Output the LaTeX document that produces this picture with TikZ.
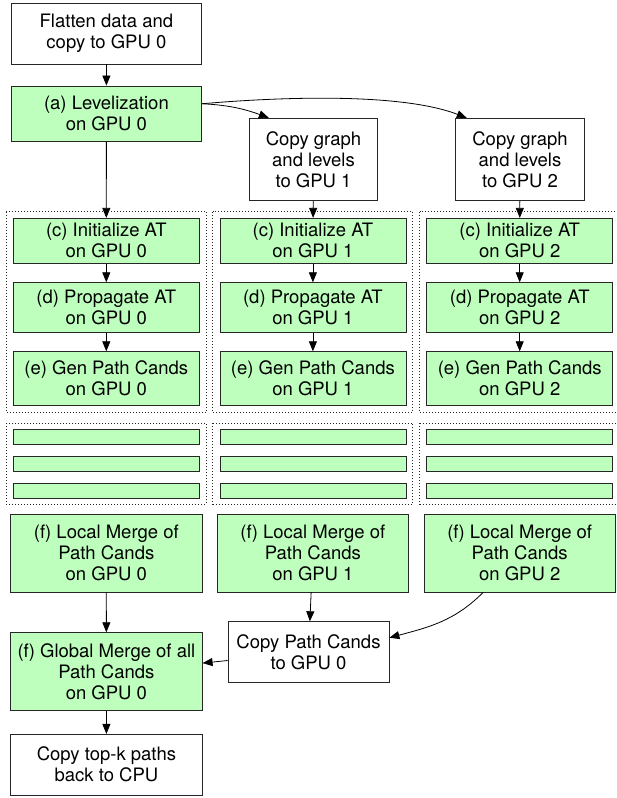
\documentclass[tikz,border=0pt]{standalone}
\usepackage{fontspec}
\setmainfont{TeX Gyre Heros}
\usetikzlibrary{arrows.meta}
\definecolor{gpugreen}{RGB}{190,255,190}
\newcommand{\boxfont}{\fontsize{18.5}{21}\selectfont}
\tikzstyle{hostbox}=[draw=black!85,fill=white,line width=0.8pt,align=center,inner sep=0pt,font=\boxfont]
\tikzstyle{gpubox}=[hostbox,fill=gpugreen]
\tikzstyle{stubbar}=[gpubox,minimum width=186pt,minimum height=15pt]
\tikzstyle{gpuframe}=[draw=black!85,line width=0.9pt,dash pattern=on 1pt off 2pt]
\tikzstyle{flow}=[-{Triangle[length=10pt,width=8pt]},line width=0.8pt]
\newcommand{\drawGPUcolumn}[2]{% #1 = GPU number, #2 = x of the column
\node[gpubox,minimum width=186pt,minimum height=45pt] (init#1) at (#2,-240.8) {(c) Initialize AT\\on GPU #1};
\node[gpubox,minimum width=186pt,minimum height=50pt] (prop#1) at (#2,-307.7) {(d) Propagate AT\\on GPU #1};
\node[gpubox,minimum width=186pt,minimum height=54pt] (gen#1) at (#2,-378.7) {(e) Gen Path Cands\\on GPU #1};
\draw[flow] (init#1) -- (prop#1);
\draw[flow] (prop#1) -- (gen#1);
\draw[gpuframe] (#2-100,-211.7) rectangle (#2+100,-412.3);
% the next kernels, only hinted at
\draw[gpuframe] (#2-100,-423.3) rectangle (#2+100,-504.3);
\foreach \yb [count=\k] in {436.8,463.7,490.5}
  \node[stubbar] (bar#1\k) at (#2,-\yb) {};
\node[gpubox,minimum width=191.5pt,minimum height=77.7pt] (merge#1) at (#2,-553.2) {(f) Local Merge of\\Path Cands\\on GPU #1};
}
\begin{document}
\begin{tikzpicture}[x=1pt,y=1pt]
\useasboundingbox (0,0) rectangle (616,-798);
\node[hostbox,minimum width=190.7pt,minimum height=60.7pt] (flatten) at (106.4,-33.7) {Flatten data and\\copy to GPU 0};
\node[gpubox,minimum width=190.7pt,minimum height=55.7pt] (level) at (106.4,-113.8) {(a) Levelization\\on GPU 0};
\node[hostbox,minimum width=128.4pt,minimum height=82.4pt] (copy1) at (313.5,-159.5) {Copy graph\\and levels\\to GPU 1};
\node[hostbox,minimum width=128.4pt,minimum height=82.4pt] (copy2) at (520,-159.5) {Copy graph\\and levels\\to GPU 2};
\drawGPUcolumn{0}{106.3}
\drawGPUcolumn{1}{312.9}
\drawGPUcolumn{2}{519.7}
\node[gpubox,minimum width=191.5pt,minimum height=77.6pt] (global) at (106.4,-671.5) {(f) Global Merge of all\\Path Cands\\on GPU 0};
\node[hostbox,minimum width=161pt,minimum height=60.6pt] (gather) at (308.5,-652) {Copy Path Cands\\to GPU 0};
\node[hostbox,minimum width=191.5pt,minimum height=60.7pt] (topk) at (106.4,-764.7) {Copy top-k paths\\back to CPU};

\draw[flow] (flatten) -- (level);
\draw[flow] (level) -- (init0);
\draw[flow] (level.6) to[out=-3,in=160] (copy1.137);
\draw[flow] (level.6) to[out=5,in=159,looseness=0.7] (copy2.142);
\draw[flow] (copy1) -- (init1);
\draw[flow] (copy2) -- (init2);
\draw[flow] (merge0) -- (global);
\draw[flow] (merge1) -- (gather);
\draw[flow] (merge2.227) to[out=225,in=15] (gather.10);
\draw[flow] (gather.186) -- (global.5);
\draw[flow] (global) -- (topk);
\end{tikzpicture}
\end{document}
